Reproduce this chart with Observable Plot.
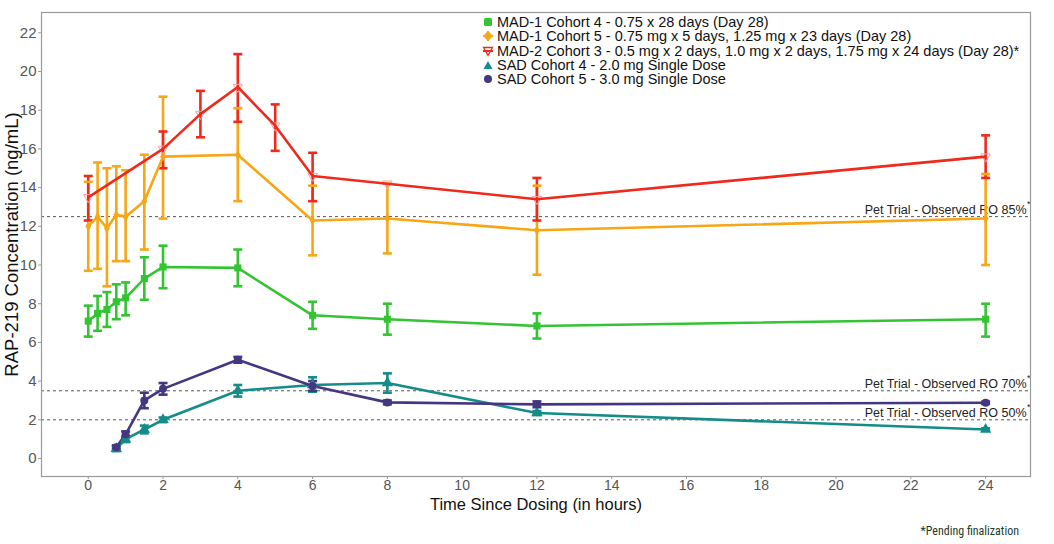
<!DOCTYPE html>
<html>
<head>
<meta charset="utf-8">
<script src="https://cdn.jsdelivr.net/npm/d3@7"></script>
<script src="https://cdn.jsdelivr.net/npm/@observablehq/plot@0.6"></script>
<style>
  html, body { margin: 0; padding: 0; background: #fff; }
  #wrap { position: relative; width: 1054px; height: 544px; font-family: "Liberation Sans", Arial, sans-serif; }
  #legend { position: absolute; left: 482px; top: 15px; font-size: 14.5px; color: #111; line-height: 14.3px; }
  #legend div { display: flex; align-items: center; white-space: nowrap; }
  #legend svg { width: 12px; height: 12px; margin-right: 3px; }
  #foot { position: absolute; right: 35px; top: 524px; font-family: "Liberation Sans Narrow", "Roboto Condensed", Arial, sans-serif; font-size: 12px; color: #1d3b2c; }
</style>
</head>
<body>
<div id="wrap">
  <div id="chart"></div>
  <div id="legend"></div>
  <div id="foot">*Pending finalization</div>
</div>
<script>
// ---- data ----
const seriesNames = [
  "MAD-1 Cohort 4 - 0.75 x 28 days (Day 28)",
  "MAD-1 Cohort 5 - 0.75 mg x 5 days, 1.25 mg x 23 days (Day 28)",
  "MAD-2 Cohort 3 - 0.5 mg x 2 days, 1.0 mg x 2 days, 1.75 mg x 24 days (Day 28)*",
  "SAD Cohort 4 - 2.0 mg Single Dose",
  "SAD Cohort 5 - 3.0 mg Single Dose"
];
const seriesColors = ["#33c433", "#f7a616", "#ef2a1c", "#148c88", "#453682"];

const madTimes  = [0, 0.25, 0.5, 0.75, 1, 1.5, 2, 4, 6, 8, 12, 24];
const mad2Times = [0, 2, 3, 4, 5, 6, 8, 12, 24];
const sadTimes  = [0.75, 1, 1.5, 2, 4, 6, 8, 12, 24];

const mad1c4Mean = [7.1, 7.5, 7.7, 8.1, 8.3, 9.3, 9.9, 9.85, 7.4, 7.2, 6.85, 7.2];
const mad1c4Lo   = [6.3, 6.6, 6.8, 7.2, 7.4, 8.2, 8.8, 8.9, 6.7, 6.4, 6.2, 6.3];
const mad1c4Hi   = [7.9, 8.4, 8.6, 9.0, 9.1, 10.4, 11.0, 10.8, 8.1, 8.0, 7.5, 8.0];

const mad1c5Mean = [12.0, 12.5, 11.9, 12.6, 12.5, 13.3, 15.6, 15.7, 12.3, 12.4, 11.8, 12.4];
const mad1c5Lo   = [9.7, 9.8, 8.9, 10.2, 10.2, 10.8, 12.4, 13.3, 10.5, 10.6, 9.5, 10.0];
const mad1c5Hi   = [14.3, 15.3, 15.0, 15.1, 14.9, 15.7, 18.7, 18.1, 14.1, 14.2, 14.1, 14.7];

const mad2c3Mean = [13.5, 16.0, 17.8, 19.2, 17.2, 14.6, 14.2, 13.4, 15.6];
const mad2c3Lo   = [12.3, 15.0, 16.6, 17.4, 15.9, 13.3, null, 12.3, 14.5];
const mad2c3Hi   = [14.6, 16.9, 19.0, 20.9, 18.3, 15.8, null, 14.5, 16.7];

const sad4Mean = [0.5, 1.0, 1.5, 2.0, 3.5, 3.8, 3.9, 2.35, 1.5];
const sad4Lo   = [0.38, 0.85, 1.3, 1.88, 3.2, 3.45, 3.4, 2.25, 1.44];
const sad4Hi   = [0.62, 1.15, 1.7, 2.12, 3.8, 4.2, 4.4, 2.45, 1.56];

const sad5Mean = [0.58, 1.25, 3.0, 3.6, 5.1, 3.75, 2.9, 2.8, 2.88];
const sad5Lo   = [0.48, 1.1, 2.6, 3.3, 4.95, 3.5, 2.8, 2.65, 2.82];
const sad5Hi   = [0.68, 1.4, 3.4, 3.9, 5.25, 4.0, 3.0, 2.95, 2.94];

const refValues = [12.5, 3.5, 2.0];
const refLabels = ["Pet Trial - Observed RO 85%", "Pet Trial - Observed RO 70%", "Pet Trial - Observed RO 50%"];

const xTicks = d3.range(0, 25, 2);
const yTicks = d3.range(0, 23, 2);

// ---- build table ----
function build(si, times, mean, lo, hi) {
  return times.map((t, i) => ({series: seriesNames[si], t, v: mean[i], lo: lo[i], hi: hi[i]}));
}
const all = [
  ...build(0, madTimes, mad1c4Mean, mad1c4Lo, mad1c4Hi),
  ...build(1, madTimes, mad1c5Mean, mad1c5Lo, mad1c5Hi),
  ...build(2, mad2Times, mad2c3Mean, mad2c3Lo, mad2c3Hi),
  ...build(3, sadTimes, sad4Mean, sad4Lo, sad4Hi),
  ...build(4, sadTimes, sad5Mean, sad5Lo, sad5Hi)
];
const withErr = all.filter(d => d.lo != null);
const refs = refValues.map((v, i) => ({v, label: refLabels[i]}));

const cap = { draw(ctx, size) { const r = Math.sqrt(size / Math.PI); ctx.moveTo(-r, 0); ctx.lineTo(r, 0); } };
const color = {domain: seriesNames, range: seriesColors};

const bySeries = i => all.filter(d => d.series === seriesNames[i]);

const plot = Plot.plot({
  width: 1054,
  height: 520,
  marginLeft: 41,
  marginRight: 24,
  marginTop: 12,
  marginBottom: 44,
  x: {domain: [-1.25, 25.2]},
  y: {domain: [-0.93, 23.05]},
  color,
  style: {fontFamily: "Liberation Sans, Arial, sans-serif", background: "#fff"},
  marks: [
    Plot.ruleY(refs, {y: "v", stroke: "#555", strokeWidth: 1, strokeDasharray: "3,3"}),
    Plot.text(refs, {y: "v", text: "label", frameAnchor: "right", textAnchor: "end", dx: -4, dy: -7, fontSize: 12.5, fill: "#222"}),
    Plot.text(refs, {y: "v", text: () => "*", frameAnchor: "right", textAnchor: "end", dx: 0, dy: -13, fontSize: 9, fill: "#222"}),
    Plot.ruleX(withErr, {x: "t", y1: "lo", y2: "hi", stroke: "series", strokeWidth: 2.6}),
    Plot.dot(withErr, {x: "t", y: "lo", symbol: cap, r: 4.5, stroke: "series", strokeWidth: 2.6}),
    Plot.dot(withErr, {x: "t", y: "hi", symbol: cap, r: 4.5, stroke: "series", strokeWidth: 2.6}),
    Plot.dot(bySeries(2), {x: "t", y: "v", symbol: "triangle", rotate: 180, r: 3.5, stroke: "#f7a0a0", fill: "none", strokeWidth: 1}),
    Plot.line(all, {x: "t", y: "v", z: "series", stroke: "series", strokeWidth: 2.6}),
    Plot.dot(bySeries(0), {x: "t", y: "v", symbol: "square", r: 4, fill: seriesColors[0]}),
    Plot.dot(bySeries(1), {x: "t", y: "v", symbol: "diamond", r: 3, fill: seriesColors[1]}),
    Plot.dot(bySeries(3), {x: "t", y: "v", symbol: "triangle", r: 4.2, fill: seriesColors[3]}),
    Plot.dot(bySeries(4), {x: "t", y: "v", symbol: "circle", r: 4, fill: seriesColors[4]}),
    Plot.frame({stroke: "#9a9a9a", strokeWidth: 1.2}),
    Plot.axisX({ticks: xTicks, tickSize: 3, tickPadding: 1, fontSize: 14, stroke: "#999", color: "#555",
      label: "Time Since Dosing (in hours)", labelAnchor: "center", labelArrow: "none", labelOffset: 33}),
    Plot.axisY({ticks: yTicks, tickSize: 3, tickPadding: 2, fontSize: 15, stroke: "#999", color: "#555",
      label: "RAP-219 Concentration (ng/mL)", labelAnchor: "center", labelArrow: "none", labelOffset: 37})
  ]
});
document.getElementById("chart").appendChild(plot);

// style axis titles
d3.select(plot).selectAll("g[aria-label='x-axis label'] text").attr("fill", "#111").style("font-size", "16.5px");
d3.select(plot).selectAll("g[aria-label='y-axis label'] text").attr("fill", "#111").style("font-size", "18.5px");

// ---- legend ----
const legendShapes = [
  '<rect x="2" y="2" width="8" height="8" rx="1.5" fill="COL"/>',
  '<path d="M6 1 L11 6 L6 11 L1 6 Z" fill="COL"/><path d="M1 6 H11 M6 1 V11" stroke="COL" stroke-width="2"/>',
  '<path d="M1.5 2.5 L10.5 2.5 L6 10.5 Z" fill="#fff" stroke="COL" stroke-width="1.3"/><path d="M1 6 H11" stroke="COL" stroke-width="2"/>',
  '<path d="M6 2 L10.5 10 L1.5 10 Z" fill="COL"/>',
  '<circle cx="6" cy="6" r="4" fill="COL"/>'
];
const lg = document.getElementById("legend");
seriesNames.forEach((name, i) => {
  const row = document.createElement("div");
  row.innerHTML = '<svg viewBox="0 0 12 12">' + legendShapes[i].replace(/COL/g, seriesColors[i]) + '</svg><span>' + name + '</span>';
  lg.appendChild(row);
});
</script>
</body>
</html>
